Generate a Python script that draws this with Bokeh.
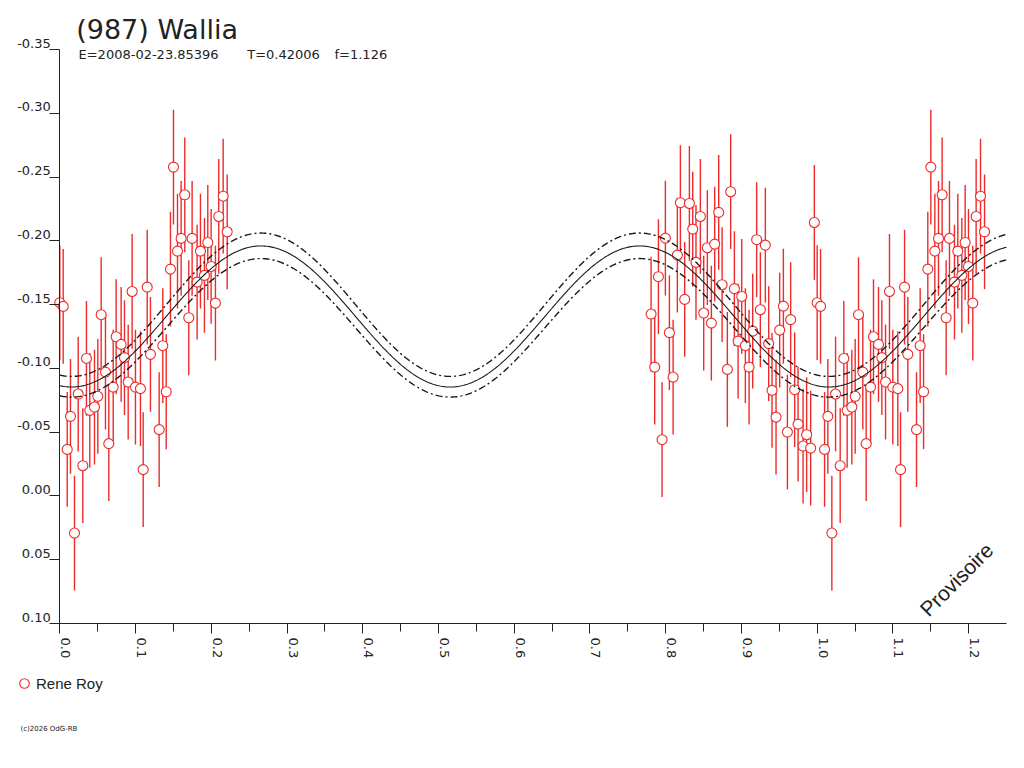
import math
import numpy as np
from bokeh.plotting import figure
from bokeh.models import (Range1d, FixedTicker, SingleIntervalTicker, PrintfTickFormatter,
                          Label, Legend, LegendItem, ColumnDataSource, LinearAxis)
from bokeh.embed import file_html
from bokeh.resources import INLINE

# ---------------- data ----------------
title_text = "(987) Wallia"
subtitle_parts = ["E=2008-02-23.85396", "T=0.42006", "f=1.126"]
observer = "Rene Roy"
copyright_text = "(c)2026 OdG-RB"
watermark = "Provisoire"

phase = [
    0.7807, 0.7855, 0.7904, 0.7952, 0.7996, 0.8049, 0.8098, 0.8154, 0.8194, 0.8251,
    0.8313, 0.8357, 0.8400, 0.8458, 0.8502, 0.8550, 0.8603, 0.8647, 0.8700, 0.8745,
    0.8814, 0.8858, 0.8907, 0.8956, 0.9004, 0.9052, 0.9101, 0.9149, 0.9201, 0.9250,
    0.9316, 0.9360, 0.9404, 0.9457, 0.9505, 0.9554, 0.9607, 0.9650, 0.9703, 0.9748,
    0.9814, 0.9861, 0.9914, 0.9963,
    0.0000, 0.0045, 0.0098, 0.0141, 0.0194, 0.0243, 0.0304, 0.0352, 0.0396, 0.0458,
    0.0502, 0.0546, 0.0603, 0.0647, 0.0705, 0.0744, 0.0810, 0.0854, 0.0903, 0.0955,
    0.0999, 0.1065, 0.1101, 0.1154, 0.1197, 0.1312, 0.1360, 0.1405, 0.1461, 0.1501,
    0.1554, 0.1602, 0.1650, 0.1703, 0.1747, 0.1813, 0.1857, 0.1910, 0.1954, 0.1998,
    0.2055, 0.2099, 0.2157, 0.2210,
]
mag = [
    -0.1426, -0.1010, -0.1719, -0.0441, -0.2021, -0.1280, -0.0932, -0.1888, -0.2299, -0.1541,
    -0.2293, -0.2092, -0.1831, -0.2191, -0.1434, -0.1946, -0.1355, -0.1974, -0.2223, -0.1656,
    -0.0992, -0.2385, -0.1625, -0.1214, -0.1564, -0.1178, -0.1010, -0.1292, -0.2009, -0.1460,
    -0.1966, -0.1194, -0.0828, -0.0618, -0.1300, -0.1488, -0.0501, -0.1382, -0.0833, -0.0563,
    -0.0391, -0.0480, -0.0375, -0.2144,
    -0.1515, -0.1486, -0.0365, -0.0624, 0.0291, -0.0799, -0.0237, -0.1078, -0.0671, -0.0697,
    -0.0781, -0.1421, -0.0971, -0.0410, -0.0853, -0.1248, -0.1188, -0.1084, -0.0893, -0.1603,
    -0.0853, -0.0841, -0.0206, -0.1637, -0.1110, -0.0520, -0.1178, -0.0817, -0.1778, -0.2578,
    -0.1919, -0.2019, -0.2361, -0.1397, -0.2019, -0.1676, -0.1919, -0.1729, -0.1987, -0.1799,
    -0.1512, -0.2191, -0.2350, -0.2071,
]
mag_err = [
    0.045, 0.045, 0.045, 0.045, 0.045, 0.045, 0.045, 0.045, 0.045, 0.045,
    0.045, 0.045, 0.045, 0.045, 0.045, 0.045, 0.045, 0.045, 0.045, 0.045,
    0.045, 0.045, 0.045, 0.045, 0.045, 0.045, 0.045, 0.045, 0.045, 0.045,
    0.045, 0.045, 0.045, 0.045, 0.045, 0.045, 0.045, 0.045, 0.045, 0.045,
    0.045, 0.045, 0.045, 0.045,
    0.045, 0.045, 0.045, 0.045, 0.045, 0.045, 0.045, 0.045, 0.045, 0.045,
    0.045, 0.045, 0.045, 0.045, 0.045, 0.045, 0.045, 0.045, 0.045, 0.045,
    0.045, 0.045, 0.045, 0.045, 0.045, 0.045, 0.045, 0.045, 0.045, 0.045,
    0.045, 0.045, 0.045, 0.045, 0.045, 0.045, 0.045, 0.045, 0.045, 0.045,
    0.045, 0.045, 0.045, 0.045,
]

# Fourier fit (2nd harmonic) and its uncertainty envelope
fit_mean, fit_amp = -0.1407, 0.0553
upper_mean, upper_amp = -0.1499, 0.0562
lower_mean, lower_amp = -0.1318, 0.0543
fit_min_phase = 0.0155

y_ticks = [-0.35, -0.30, -0.25, -0.20, -0.15, -0.10, -0.05, 0.00, 0.05, 0.10]
x_start, x_end = 0.0, 1.25
y_bottom, y_top = 0.10, -0.35

# ---------------- layout geometry (pixels) ----------------
W, H = 1016, 760
axis_left_px, axis_right_px = 59.3, 1006.0
axis_top_px, axis_bottom_px = 49.0, 623.0
sx = (axis_right_px - axis_left_px) / (x_end - x_start)      # px per phase unit
sy = (axis_bottom_px - axis_top_px) / (y_bottom - y_top)      # px per mag unit
vx0 = x_start - axis_left_px / sx
vx1 = vx0 + W / sx
vy_top = y_top - axis_top_px / sy
vy_bot = vy_top + H / sy

def px_x(px):
    return vx0 + px / sx

def px_y(py):
    return vy_top + py / sy

# ---------------- build ----------------
ph_all, mg_all, er_all = [], [], []
for ph_, m_, e_ in zip(phase, mag, mag_err):
    for shift in (0.0, 1.0):
        q = ph_ + shift
        if x_start <= q <= x_end:
            ph_all.append(q); mg_all.append(m_); er_all.append(e_)
ph_all = np.array(ph_all); mg_all = np.array(mg_all); er_all = np.array(er_all)
src = ColumnDataSource(dict(x=ph_all, y=mg_all, y0=mg_all - er_all, y1=mg_all + er_all))

xs = np.linspace(x_start, x_end, 800)
arg = np.cos(4 * np.pi * (xs - fit_min_phase))
fit_y = fit_mean + fit_amp * arg
up_y = upper_mean + upper_amp * arg
lo_y = lower_mean + lower_amp * arg

p = figure(width=W, height=H, x_range=Range1d(vx0, vx1), y_range=Range1d(vy_bot, vy_top),
           output_backend="svg", toolbar_location=None, title=None,
           min_border_left=0, min_border_right=0, min_border_top=0, min_border_bottom=0)
p.outline_line_color = None
p.xgrid.visible = False
p.ygrid.visible = False
p.background_fill_color = "white"

# tick labels sit beside their ticks in the reference: label axes on slightly shifted ranges
x_lab_shift = 6.0 / sx
y_lab_shift = 6.5 / sy
p.extra_x_ranges = {"xlab": Range1d(vx0 - x_lab_shift, vx1 - x_lab_shift)}
p.extra_y_ranges = {"ylab": Range1d(vy_bot + y_lab_shift, vy_top + y_lab_shift)}

red = "#ee2b2b"
p.segment(x0="x", y0="y0", x1="x", y1="y1", source=src, line_color=red, line_width=1.4)
pts = p.scatter(x="x", y="y", source=src, marker="circle", size=10,
                line_color=red, fill_color="white", line_width=1.1)

ink = "#1a1a1a"
p.line(xs, fit_y, line_color=ink, line_width=1.1)
p.line(xs, up_y, line_color=ink, line_width=1.4, line_dash="7 3 2 3")
p.line(xs, lo_y, line_color=ink, line_width=1.4, line_dash="7 3 2 3")

axis_col = "#222222"
label_font = "DejaVu Sans"
for ax in (p.xaxis[0], p.yaxis[0]):
    ax.axis_line_color = axis_col
    ax.major_tick_line_color = axis_col
    ax.minor_tick_line_color = axis_col
    ax.major_tick_in = 0
    ax.minor_tick_in = 0
    ax.major_tick_out = 10
    ax.major_label_standoff = 0
    ax.formatter = PrintfTickFormatter(format="")

p.yaxis.ticker = FixedTicker(ticks=y_ticks)
p.yaxis.minor_tick_line_color = None
p.yaxis.bounds = (y_top, y_bottom)
p.yaxis.fixed_location = x_start

p.xaxis.ticker = SingleIntervalTicker(interval=0.1, num_minor_ticks=2)
p.xaxis.minor_tick_out = 8
p.xaxis.bounds = (x_start, x_end)
p.xaxis.fixed_location = y_bottom

ylab = LinearAxis(y_range_name="ylab", ticker=FixedTicker(ticks=y_ticks),
                  formatter=PrintfTickFormatter(format="%.2f"), fixed_location=x_start,
                  axis_line_color=None, major_tick_line_color=None, minor_tick_line_color=None,
                  major_tick_out=0, major_tick_in=0, major_label_standoff=9,
                  major_label_text_font=label_font, major_label_text_font_size="13px",
                  major_label_text_color=axis_col)
p.add_layout(ylab, "left")

xlab = LinearAxis(x_range_name="xlab", ticker=SingleIntervalTicker(interval=0.1, num_minor_ticks=2),
                  formatter=PrintfTickFormatter(format="%.1f"), fixed_location=y_bottom,
                  axis_line_color=None, major_tick_line_color=None, minor_tick_line_color=None,
                  major_tick_out=0, major_tick_in=0, major_label_standoff=10,
                  major_label_orientation=-math.pi / 2,
                  major_label_text_font=label_font, major_label_text_font_size="13px",
                  major_label_text_color=axis_col)
p.add_layout(xlab, "below")

# header
p.add_layout(Label(x=px_x(75.7), y=px_y(28.5), text=title_text, text_font="DejaVu Sans",
                   text_font_size="27px", text_color=axis_col, text_baseline="alphabetic"))
sub_px = [78.0, 246.7, 334.0]
for spx, part in zip(sub_px, subtitle_parts):
    p.add_layout(Label(x=px_x(spx), y=px_y(54.3), text=part, text_font="DejaVu Sans",
                       text_font_size="13px", text_color=axis_col, text_baseline="alphabetic"))

p.add_layout(Label(x=px_x(923.0), y=px_y(612.0), text=watermark, angle=math.pi / 4,
                   text_font="Liberation Sans", text_font_size="21px", text_color=axis_col,
                   text_baseline="alphabetic"))
p.add_layout(Label(x=px_x(20.0), y=px_y(728.0), text=copyright_text, text_font="DejaVu Sans",
                   text_font_size="7px", text_color=axis_col, text_baseline="alphabetic"))

legend = Legend(items=[LegendItem(label=observer, renderers=[pts])],
                location=(12, int(H - 695)),
                glyph_width=24, glyph_height=24, label_standoff=0, padding=0, margin=0,
                border_line_color=None, background_fill_alpha=0,
                label_text_font="Liberation Sans", label_text_font_size="15px",
                label_text_color=axis_col)
p.add_layout(legend)

open("out.html", "w").write(file_html(p, INLINE))
